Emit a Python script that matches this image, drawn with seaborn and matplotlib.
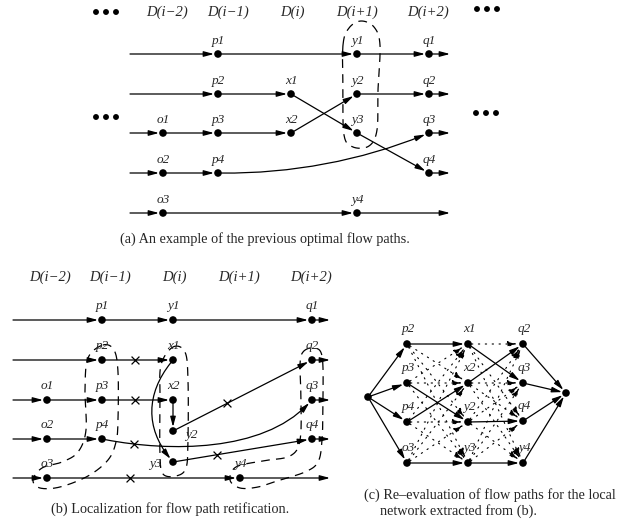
import numpy as np
import pandas as pd
import matplotlib
matplotlib.use('Agg')
import matplotlib.pyplot as plt
from matplotlib.path import Path
from matplotlib.patches import FancyArrowPatch
import seaborn as sns

# ---------------- data ----------------
# Panel (a): previous optimal flow paths
a_headers = ['D(i−2)', 'D(i−1)', 'D(i)', 'D(i+1)', 'D(i+2)']
a_header_x = [167, 228, 292, 357, 428]
a_header_y = 12
a_col_x = {'o': 163, 'p': 218, 'x': 291, 'y': 357, 'q': 429}
a_row_y = [54, 94, 133, 173, 213]
a_nodes = {'p1': ('p', 0), 'y1': ('y', 0), 'q1': ('q', 0),
           'p2': ('p', 1), 'x1': ('x', 1), 'y2': ('y', 1), 'q2': ('q', 1),
           'o1': ('o', 2), 'p3': ('p', 2), 'x2': ('x', 2), 'y3': ('y', 2), 'q3': ('q', 2),
           'o2': ('o', 3), 'p4': ('p', 3), 'q4': ('q', 3),
           'o3': ('o', 4), 'y4': ('y', 4)}
a_in_x, a_out_x = 130, 450
a_in_nodes = ['p1', 'p2', 'o1', 'o2', 'o3']
a_out_nodes = ['q1', 'q2', 'q3', 'q4', 'y4']
a_edges = [('p1', 'y1', 0), ('y1', 'q1', 0),
           ('p2', 'x1', 0), ('x1', 'y3', 0), ('y3', 'q4', 0),
           ('o1', 'p3', 0), ('p3', 'x2', 0), ('x2', 'y2', 0), ('y2', 'q2', 0),
           ('o2', 'p4', 0), ('p4', 'q3', 0.1),
           ('o3', 'y4', 0)]
a_loop = [(343, 45), (349, 28), (361, 21), (374, 27), (380, 45), (378, 90),
          (377, 130), (369, 146), (353, 147), (344, 135), (343, 90)]
a_caption = '(a) An example of the previous optimal flow paths.'
a_caption_xy = (265, 239)

# Panel (b): localization
b_headers = ['D(i−2)', 'D(i−1)', 'D(i)', 'D(i+1)', 'D(i+2)']
b_header_x = [50, 110, 174, 239, 311]
b_header_y = 277
b_nodes = {'p1': (102, 320), 'y1': (173, 320), 'q1': (312, 320),
           'p2': (102, 360), 'x1': (173, 360), 'q2': (312, 360),
           'o1': (47, 400), 'p3': (102, 400), 'x2': (173, 400), 'q3': (312, 400),
           'o2': (47, 439), 'p4': (102, 439), 'y2': (173, 431), 'q4': (312, 439),
           'y3': (173, 462), 'o3': (47, 478), 'y4': (240, 478)}
b_label_off = {'y2': (18, 4), 'y3': (-18, 2)}
b_in_x, b_out_x = 13, 330
b_in_nodes = ['p1', 'p2', 'o1', 'o2', 'o3']
b_out_nodes = ['q1', 'q2', 'q3', 'q4', 'y4']
# (src, dst, bend, cross position t)
b_edges = [('p1', 'y1', None, None), ('y1', 'q1', None, None),
           ('p2', 'x1', None, 0.46), ('o1', 'p3', None, None),
           ('p3', 'x2', None, 0.46), ('o2', 'p4', None, None),
           ('p4', 'q3', [(170, 452), (262, 452)], 0.15),
           ('x1', 'y3', 0.4, None), ('x2', 'y2', None, None),
           ('y2', 'q2', None, 0.39), ('y3', 'q4', None, 0.32),
           ('o3', 'y4', None, 0.43)]
b_loops = [
    [(103, 345), (114, 350), (118, 372), (118, 420), (116, 442), (108, 460),
     (88, 476), (60, 487), (40, 488), (33, 480), (42, 468), (62, 462),
     (78, 452), (86, 430), (85, 390), (88, 358)],
    [(173, 347), (185, 352), (188, 380), (188, 440), (186, 468), (176, 476),
     (163, 474), (160, 455), (160, 400), (161, 365)],
    [(303, 352), (313, 348), (322, 356), (323, 400), (322, 440), (318, 462),
     (305, 472), (280, 480), (258, 487), (240, 488), (230, 480), (236, 467),
     (262, 461), (290, 456), (300, 440), (301, 400), (300, 365)]]
b_caption = '(b) Localization for flow path retification.'
b_caption_xy = (170, 509)

# Panel (c): re-evaluation network
c_nodes = {'s': (368, 397), 'p2': (407, 344), 'p3': (407, 383), 'p4': (407, 422),
           'o3': (407, 463), 'x1': (468, 344), 'x2': (468, 383), 'y2': (468, 422),
           'y3': (468, 463), 'q2': (523, 344), 'q3': (523, 383), 'q4': (523, 421),
           'y4': (523, 463), 't': (566, 393)}
c_col1 = ['p2', 'p3', 'p4', 'o3']
c_col2 = ['x1', 'x2', 'y2', 'y3']
c_col3 = ['q2', 'q3', 'q4', 'y4']
c_solid = [('s', 'p2'), ('s', 'p3'), ('s', 'p4'), ('s', 'o3'),
           ('p2', 'x1'), ('p3', 'y2'), ('p4', 'x2'), ('o3', 'y3'),
           ('x1', 'q3'), ('x2', 'q2'), ('y2', 'q4'), ('y3', 'y4'),
           ('q2', 't'), ('q3', 't'), ('q4', 't'), ('y4', 't')]
c_caption = ['(c) Re–evaluation of flow paths for the local',
             'network extracted from (b).']
c_caption_xy = [(364, 495), (380, 511)]

ellipsis_pos = [(106, 12), (487, 9), (106, 117), (486, 113)]

# ---------------- drawing ----------------
sns.set_style('white')
plt.rcParams['font.family'] = ['Liberation Serif', 'DejaVu Serif']

fig = plt.figure(figsize=(6.24, 5.24), dpi=100)
ax = fig.add_axes([0, 0, 1, 1])

LW = 0.9
HEAD = '-|>,head_length=0.6,head_width=0.16'
CAP_FS = 10.3
LAB_FS = 9.5
HDR_FS = 10.5


def closed_spline(pts, n=24):
    P = np.array(pts, float)
    m = len(P)
    out = []
    t = np.linspace(0, 1, n, endpoint=False)[:, None]
    for i in range(m):
        p0, p1, p2, p3 = P[(i - 1) % m], P[i], P[(i + 1) % m], P[(i + 2) % m]
        seg = 0.5 * ((2 * p1) + (-p0 + p2) * t + (2 * p0 - 5 * p1 + 4 * p2 - p3) * t ** 2
                     + (-p0 + 3 * p1 - 3 * p2 + p3) * t ** 3)
        out.append(seg)
    out = np.vstack(out)
    return np.vstack([out, out[:1]])


def bez(P0, C1, C2, P3, t):
    return ((1 - t) ** 3) * P0 + 3 * (1 - t) ** 2 * t * C1 + 3 * (1 - t) * t ** 2 * C2 + t ** 3 * P3


def draw_edge(A, B, bend=None, sA=3.5, sB=4.0, ls='-', lw=LW, cross=None, head=HEAD, ms=10):
    A = np.array(A, float)
    B = np.array(B, float)
    if bend is None or (not isinstance(bend, list) and bend == 0):
        C1 = A + (B - A) / 3
        C2 = A + 2 * (B - A) / 3
    elif isinstance(bend, list):
        C1 = np.array(bend[0], float)
        C2 = np.array(bend[1], float)
    else:
        d = B - A
        Q = (A + B) / 2 + bend * np.array([-d[1], d[0]])
        C1 = A + 2 / 3 * (Q - A)
        C2 = B + 2 / 3 * (Q - B)
    if cross is not None:
        px, py = bez(A, C1, C2, B, cross)
        ax.scatter([px], [py], marker='x', s=32, linewidths=0.9, color='black', zorder=6)
    u1 = (C1 - A) / np.linalg.norm(C1 - A)
    u2 = (B - C2) / np.linalg.norm(B - C2)
    A2 = A + u1 * sA
    B2 = B - u2 * sB
    path = Path([A2, C1, C2, B2], [Path.MOVETO, Path.CURVE4, Path.CURVE4, Path.CURVE4])
    arr = FancyArrowPatch(path=path, arrowstyle=head, mutation_scale=ms,
                          lw=lw, color='black', linestyle=ls, zorder=3)
    ax.add_patch(arr)


node_rows = []

# Panel (a)
a_pos = {k: (a_col_x[c], a_row_y[r]) for k, (c, r) in a_nodes.items()}
for h, hx in zip(a_headers, a_header_x):
    ax.text(hx, a_header_y, h, ha='center', va='center', style='italic', fontsize=HDR_FS)
for k, (x, y) in a_pos.items():
    node_rows.append({'x': x, 'y': y, 'panel': 'a'})
    ax.text(x, y - 13, k, ha='center', va='center', style='italic', fontsize=LAB_FS)
for k in a_in_nodes:
    x, y = a_pos[k]
    draw_edge((a_in_x, y), (x, y), sA=0)
for k in a_out_nodes:
    x, y = a_pos[k]
    draw_edge((x, y), (a_out_x, y), sB=0)
for s, d, rad in a_edges:
    draw_edge(a_pos[s], a_pos[d], bend=rad)
lp = closed_spline(a_loop)
ax.plot(lp[:, 0], lp[:, 1], color='black', lw=0.9, ls=(0, (7, 5)))
ax.text(*a_caption_xy, a_caption, ha='center', va='center', fontsize=CAP_FS)

# Panel (b)
for h, hx in zip(b_headers, b_header_x):
    ax.text(hx, b_header_y, h, ha='center', va='center', style='italic', fontsize=HDR_FS)
for k, (x, y) in b_nodes.items():
    node_rows.append({'x': x, 'y': y, 'panel': 'b'})
    dx, dy = b_label_off.get(k, (0, -14))
    ax.text(x + dx, y + dy, k, ha='center', va='center', style='italic', fontsize=LAB_FS)
for k in b_in_nodes:
    x, y = b_nodes[k]
    draw_edge((b_in_x, y), (x, y), sA=0)
for k in b_out_nodes:
    x, y = b_nodes[k]
    draw_edge((x, y), (b_out_x, y), sB=0)
for s, d, bend, cr in b_edges:
    draw_edge(b_nodes[s], b_nodes[d], bend=bend, cross=cr)
for loop in b_loops:
    lp = closed_spline(loop)
    ax.plot(lp[:, 0], lp[:, 1], color='black', lw=0.9, ls=(0, (7, 5)))
ax.text(*b_caption_xy, b_caption, ha='center', va='center', fontsize=CAP_FS)

# Panel (c)
for k, (x, y) in c_nodes.items():
    node_rows.append({'x': x, 'y': y, 'panel': 'c'})
    if k not in ('s', 't'):
        ax.text(x + 1, y - 15, k, ha='center', va='center', style='italic', fontsize=LAB_FS)
for s, d in c_solid:
    draw_edge(c_nodes[s], c_nodes[d])
solid_set = set(c_solid)
for left, right in [(c_col1, c_col2), (c_col2, c_col3)]:
    for s in left:
        for d in right:
            if (s, d) not in solid_set:
                draw_edge(c_nodes[s], c_nodes[d], ls=(0, (1.2, 5)), lw=0.8, sB=5)
for line, (tx, ty) in zip(c_caption, c_caption_xy):
    ax.text(tx, ty, line, ha='left', va='center', fontsize=CAP_FS)

# ellipses (•••)
for ex, ey in ellipsis_pos:
    ax.scatter([ex - 10, ex, ex + 10], [ey] * 3, s=18, color='black', edgecolors='none', zorder=6)

# nodes through seaborn
nodes_df = pd.DataFrame(node_rows)
sns.scatterplot(data=nodes_df, x='x', y='y', color='black', s=30, edgecolor='none',
                legend=False, ax=ax, zorder=5)

ax.set_xlim(0, 624)
ax.set_ylim(524, 0)
ax.axis('off')
fig.savefig('out.png', dpi=100, facecolor='white')
